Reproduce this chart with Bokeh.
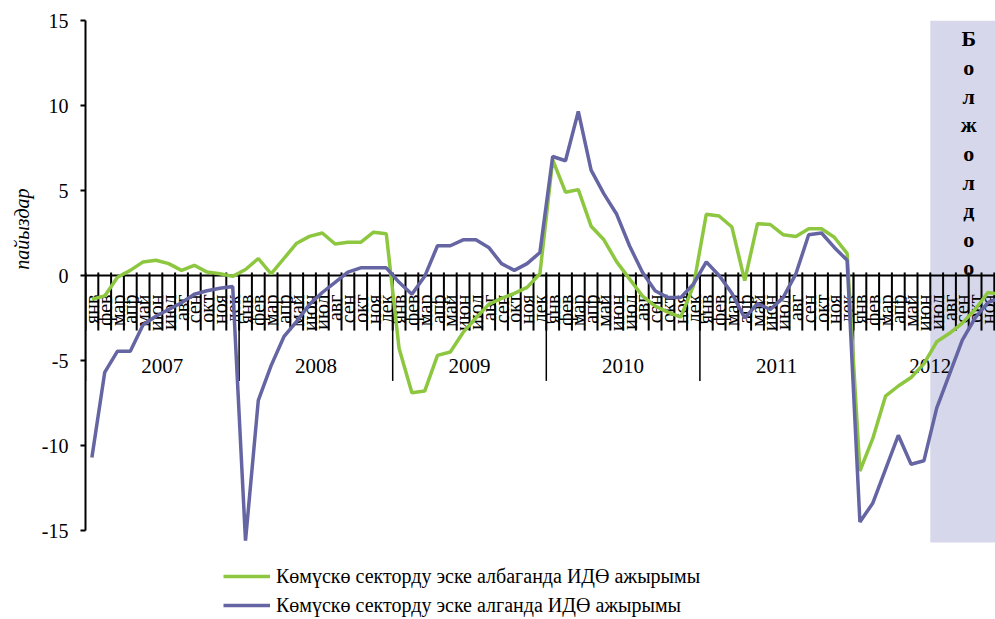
import numpy as np
from bokeh.plotting import figure
from bokeh.models import Range1d, FixedTicker, Legend, LegendItem, Title
from bokeh.core.properties import value
from bokeh.embed import file_html
from bokeh.resources import INLINE

# ---------------- data ----------------
month_names = ["янв", "фев", "мар", "апр", "май", "июн",
               "июл", "авг", "сен", "окт", "ноя", "дек"]
years = ["2007", "2008", "2009", "2010", "2011", "2012"]

# GDP gap excluding the shadow sector (green)
gap_excl = [
    -1.4, -1.2, -0.1, 0.3, 0.8, 0.9, 0.7, 0.3, 0.6, 0.2, 0.1, -0.05,      # 2007
    0.35, 1.0, 0.1, 1.0, 1.9, 2.3, 2.5, 1.85, 1.95, 1.95, 2.55, 2.45,     # 2008
    -4.3, -6.9, -6.8, -4.7, -4.5, -3.35, -2.5, -1.7, -1.35, -1.05, -0.7, 0.1,  # 2009
    6.8, 4.9, 5.05, 2.9, 2.1, 0.8, -0.2, -1.2, -1.8, -2.15, -2.45, -0.6,  # 2010
    3.6, 3.5, 2.85, -0.3, 3.05, 3.0, 2.4, 2.3, 2.75, 2.75, 2.25, 1.3,     # 2011
    -11.5, -9.6, -7.1, -6.5, -6.0, -5.2, -3.9, -3.4, -2.8, -2.0, -1.0, -1.1,  # 2012
]
# GDP gap including the shadow sector (blue)
gap_incl = [
    -10.7, -5.7, -4.45, -4.45, -2.9, -2.4, -2.0, -1.6, -1.1, -0.9, -0.75, -0.65,  # 2007
    -15.6, -7.35, -5.3, -3.6, -2.7, -1.7, -1.0, -0.4, 0.2, 0.45, 0.45, 0.45,      # 2008
    -0.4, -1.1, -0.05, 1.75, 1.75, 2.1, 2.1, 1.65, 0.7, 0.3, 0.7, 1.35,          # 2009
    7.0, 6.75, 9.65, 6.2, 4.8, 3.6, 1.75, 0.2, -0.9, -1.3, -1.3, -0.5,           # 2010
    0.8, 0.0, -1.05, -2.5, -1.65, -2.0, -1.3, 0.1, 2.4, 2.5, 1.65, 0.9,          # 2011
    -14.5, -13.4, -11.4, -9.4, -11.1, -10.9, -7.8, -5.8, -3.8, -2.5, -1.6, -1.3,  # 2012
]
series_names = ["Көмүскө секторду эске албаганда ИДӨ ажырымы",
                "Көмүскө секторду эске алганда ИДӨ ажырымы"]
forecast_label = "Болжолдоо"
forecast_start = 66          # July 2012 (index of first forecast month)
y_ticks = [-15, -10, -5, 0, 5, 10, 15]
y_title = "пайыздар"

# ---------------- styles ----------------
GREEN = "#8DC63F"
BLUE = "#6465A2"
SHADE = "#D6D7EA"
FONT = "Liberation Serif"

n = len(gap_excl)
xs = [i + 0.5 for i in range(n)]
labels = month_names * len(years)

W, H = 995, 619
LEFT, TOP = 85, 20
PX_PER_UNIT = 17.0
PX_PER_MONTH = 12.8
y_end = 15
y_start = y_end - (H - TOP) / PX_PER_UNIT
x_end = (W - LEFT) / PX_PER_MONTH

p = figure(width=W, height=H, output_backend="svg", toolbar_location=None,
           x_range=Range1d(0, x_end), y_range=Range1d(y_start, y_end),
           x_axis_location=None,
           min_border_left=LEFT, min_border_right=0, min_border_top=TOP,
           min_border_bottom=0)
p.grid.visible = False
p.outline_line_color = None
p.background_fill_color = "white"

# y axis
ax = p.yaxis[0]
ax.ticker = FixedTicker(ticks=y_ticks)
ax.bounds = (-15, 15)
ax.major_label_overrides = {t: str(t) for t in y_ticks}
ax.axis_line_width = 2
ax.axis_line_color = "black"
ax.major_tick_line_width = 2
ax.major_tick_out = 5
ax.major_tick_in = 0
ax.minor_tick_out = 0
ax.minor_tick_in = 0
ax.major_label_standoff = 12
ax.major_label_text_font = FONT
ax.major_label_text_font_size = "20px"
ax.major_label_text_color = "black"

ttl = Title(text=y_title, align="right", offset=168, standoff=12,
            text_font=FONT, text_font_style="italic", text_font_size="20px",
            text_color="black")
p.add_layout(ttl, "left")

# forecast shading
p.quad(left=[forecast_start], right=[n], bottom=[-15.7], top=[y_ticks[-1]],
       fill_color=SHADE, line_color=None)

# category axis at zero
p.segment(x0=[0], y0=[0], x1=[n], y1=[0], line_color="black", line_width=2)
bounds = list(range(n + 1))
p.segment(x0=bounds, y0=0.18, x1=bounds, y1=-3.24, line_color="black", line_width=2)
ybounds = list(range(0, n + 1, 12))
p.segment(x0=ybounds, y0=0, x1=ybounds, y1=-6.2, line_color="black", line_width=1.5)

p.text(x=xs, y=-1.12, text=labels, angle=np.pi / 2, text_align="right",
       text_baseline="middle",
       text_font=value(FONT), text_font_size="20px", text_color="black")

p.text(x=[12 * k + 6 for k in range(len(years))], y=-5.35, text=years,
       text_align="center", text_baseline="middle",
       text_font=value(FONT), text_font_size="21px", text_color="black")

p.text(x=[forecast_start + 3], y=[7.18], text=["\n".join(forecast_label)],
       text_align="center", text_baseline="middle", text_line_height=1.145,
       text_font=value(FONT), text_font_style="bold", text_font_size="22px",
       text_color="black")

# series
r1 = p.line(xs, gap_excl, line_color=GREEN, line_width=3.5)
r2 = p.line(xs, gap_incl, line_color=BLUE, line_width=3.5)

legend = Legend(items=[LegendItem(label=series_names[0], renderers=[r1]),
                       LegendItem(label=series_names[1], renderers=[r2])],
                location=(138, 2), orientation="vertical",
                glyph_width=47, glyph_height=24, label_height=24, spacing=5,
                padding=0, margin=0, label_standoff=6,
                border_line_color=None, background_fill_alpha=0,
                label_text_font=FONT, label_text_font_size="20px",
                label_text_color="black")
p.add_layout(legend)

open("out.html", "w").write(file_html(p, INLINE))
